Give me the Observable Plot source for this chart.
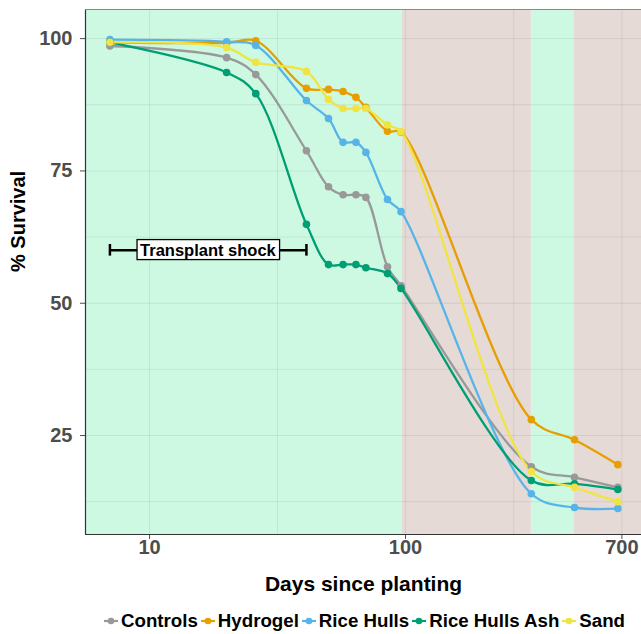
<!DOCTYPE html>
<html><head><meta charset="utf-8">
<script src="https://cdn.jsdelivr.net/npm/d3@7"></script>
<script src="https://cdn.jsdelivr.net/npm/@observablehq/plot@0.6"></script>
<style>
body{margin:0;background:#fff;font-family:"Liberation Sans",Arial,sans-serif;}
#wrap{position:relative;width:641px;height:634px;overflow:hidden;}
#legend{position:absolute;top:609px;left:104px;height:24px;display:flex;align-items:center;font-weight:bold;font-size:18.7px;color:#000;white-space:nowrap;}
#legend .item{display:flex;align-items:center;margin-right:3px;}
#legend svg{margin-right:3px;}
</style>
</head><body>
<div id="wrap"><div id="chart"></div><div id="legend"></div></div>
<script>
const seriesNames = ["Controls", "Hydrogel", "Rice Hulls", "Rice Hulls Ash", "Sand"];
const seriesColors = ["#999999", "#E69F00", "#56B4E9", "#009E73", "#F0E442"];
const days = [7, 20, 26, 41, 50, 57, 64, 70, 85, 96, 310, 457, 675];
const controls     = [98.6, 96.4, 93.2, 78.8, 72.0, 70.5, 70.5, 70.0, 56.9, 53.3, 19.1, 17.1, 15.2];
const hydrogel     = [99.3, 99.2, 99.6, 90.6, 90.4, 90.0, 88.9, 87.0, 82.5, 82.3, 28.0, 24.2, 19.5];
const riceHulls    = [99.8, 99.4, 98.7, 88.3, 84.9, 80.4, 80.4, 78.5, 69.6, 67.3, 14.0, 11.4, 11.2];
const riceHullsAsh = [99.3, 93.6, 89.6, 64.9, 57.3, 57.3, 57.3, 56.7, 55.6, 52.8, 16.5, 15.9, 14.8];
const sand         = [99.3, 98.3, 95.5, 93.8, 88.5, 86.8, 86.8, 86.8, 83.7, 82.4, 18.2, 15.2, 12.5];
const xTicks = [10, 100, 700];
const xMinor = [31.6, 264.6];
const yTicks = [25, 50, 75, 100];
const yMinor = [12.5, 37.5, 62.5, 87.5];
const greenBands = [[5.62, 97], [310, 457]];
const pinkBands = [[97, 310], [457, 835]];
const shock = {from: 7, to: 41, y: 60, mid: 16.9, label: "Transplant shock"};

const allValues = [controls, hydrogel, riceHulls, riceHullsAsh, sand];
const rows = [];
seriesNames.forEach((s, i) => days.forEach((d, j) => rows.push({series: s, day: d, value: allValues[i][j]})));

const xDom = [5.62, 835], yDom = [6.3, 105.5];
const gridStyle = {stroke: "#000", strokeOpacity: 0.07, strokeWidth: 1};
const font = "'Liberation Sans', Arial, sans-serif";

const chart = Plot.plot({
  width: 641, height: 600,
  marginLeft: 85, marginRight: 0, marginTop: 9, marginBottom: 66,
  style: {fontSize: "20px", fontWeight: "bold", color: "#4d4d4d", fontFamily: font, background: "#fff"},
  x: {type: "log", domain: xDom, ticks: xTicks, tickFormat: () => "", tickSize: 5, label: null},
  y: {domain: yDom, ticks: yTicks, tickSize: 5, tickPadding: 8, label: null},
  color: {domain: seriesNames, range: seriesColors},
  marks: [
    Plot.rect(greenBands, {x1: d => d[0], x2: d => d[1], fill: "#cdf9e3"}),
    Plot.rect(pinkBands, {x1: d => d[0], x2: d => d[1], fill: "#e6dad7"}),
    Plot.ruleX(xTicks, gridStyle),
    Plot.ruleX(xMinor, gridStyle),
    Plot.ruleY(yTicks, gridStyle),
    Plot.ruleY(yMinor, gridStyle),
    Plot.ruleX([xDom[0]], {stroke: "#333", strokeWidth: 1.2}),
    Plot.ruleY([yDom[0]], {stroke: "#333", strokeWidth: 1.2}),
    Plot.ruleY([yDom[1]], {stroke: "#888", strokeWidth: 1.2}),
    Plot.ruleY([shock], {y: "y", x1: "from", x2: "to", stroke: "#000", strokeWidth: 2.5}),
    Plot.ruleX([shock.from, shock.to], {x: d => d, y1: shock.y - 1.1, y2: shock.y + 1.1, stroke: "#000", strokeWidth: 2.5}),
    Plot.text([shock], {x: "mid", y: "y", text: "label", fill: "#000", fontWeight: "bold", fontSize: 16.5}),
    Plot.line(rows, {x: "day", y: "value", stroke: "series", curve: "catmull-rom", strokeWidth: 2.3}),
    Plot.dot(rows, {x: "day", y: "value", fill: "series", r: 3.8}),
    Plot.text(xTicks, {x: d => d, frameAnchor: "bottom", dy: 19, text: d => String(d), fill: "#4d4d4d", fontSize: 20, fontWeight: "bold"}),
    Plot.text(["Days since planting"], {frameAnchor: "bottom", dy: 56, fill: "#000", fontSize: 21, fontWeight: "bold"}),
    Plot.text(["% Survival"], {frameAnchor: "left", dx: -67, rotate: -90, fill: "#000", fontSize: 20, fontWeight: "bold"})
  ]
});
document.getElementById("chart").appendChild(chart);

// white box behind the annotation label
chart.querySelectorAll("text").forEach(t => {
  if (t.textContent === shock.label) {
    const b = t.getBBox();
    const r = document.createElementNS("http://www.w3.org/2000/svg", "rect");
    r.setAttribute("x", b.x - 3); r.setAttribute("y", b.y - 1);
    r.setAttribute("width", b.width + 6); r.setAttribute("height", b.height + 2);
    if (t.getAttribute("transform")) r.setAttribute("transform", t.getAttribute("transform"));
    r.setAttribute("fill", "#fff"); r.setAttribute("stroke", "#000"); r.setAttribute("stroke-width", 1.3);
    t.parentNode.insertBefore(r, t);
  }
});

const legend = document.getElementById("legend");
seriesNames.forEach((s, i) => {
  const item = document.createElement("div");
  item.className = "item";
  item.innerHTML = `<svg width="14" height="10"><line x1="0" x2="14" y1="5" y2="5" stroke="${seriesColors[i]}" stroke-width="2.2"/><circle cx="7" cy="5" r="3.3" fill="${seriesColors[i]}"/></svg><span>${s}</span>`;
  legend.appendChild(item);
});
</script>
</body></html>
